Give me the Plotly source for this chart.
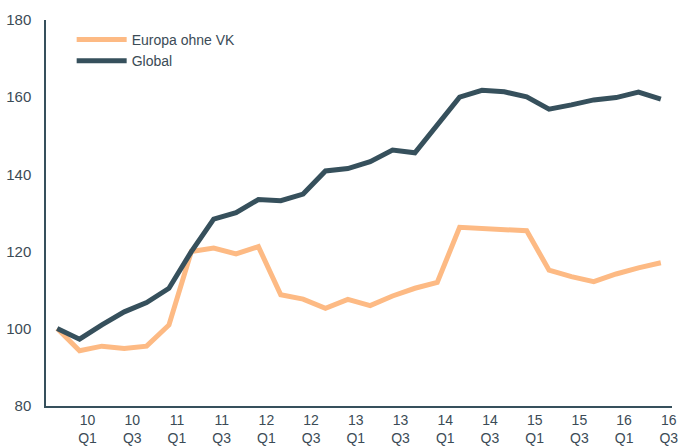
import plotly.graph_objects as go

quarters = ["09 Q4"] + [f"{y} Q{q}" for y in range(10, 16) for q in range(1, 5)] + ["16 Q1", "16 Q2", "16 Q3"]

europa = [100.1, 94.3, 95.5, 94.9, 95.5, 101.0, 120.0, 120.9, 119.4, 121.3,
          108.8, 107.7, 105.3, 107.6, 106.0, 108.5, 110.5, 112.0, 126.3, 125.9,
          125.8, 125.4, 115.2, 113.5, 112.2, 114.2, 115.8, 117.1]
global_ = [100.1, 97.3, 101.0, 104.4, 106.8, 110.5, 120.0, 128.4, 130.1, 133.5,
           133.2, 134.9, 140.9, 141.5, 143.3, 146.3, 145.6, 152.8, 160.0, 161.8,
           161.4, 160.1, 156.9, 158.0, 159.3, 159.9, 161.3, 159.5]

y_ticks = [80, 100, 120, 140, 160, 180]

x = list(range(len(quarters)))
tick_idx = [i for i, q in enumerate(quarters) if q.endswith("Q1") or q.endswith("Q3")]
tick_text = [quarters[i].replace(" ", "<br>") for i in tick_idx]

ORANGE = "#FDBA84"
DARK = "#36505C"
TEXT = "#3B4B56"

fig = go.Figure()
fig.add_trace(go.Scatter(x=x, y=europa, name="Europa ohne VK", mode="lines",
                         line=dict(color=ORANGE, width=5)))
fig.add_trace(go.Scatter(x=x, y=global_, name="Global", mode="lines",
                         line=dict(color=DARK, width=5)))

fig.update_layout(
    width=681, height=447,
    margin=dict(l=46, r=9, t=20, b=41, autoexpand=False),
    paper_bgcolor="white", plot_bgcolor="white",
    font=dict(family="Liberation Sans, Arial, sans-serif", size=15, color=TEXT),
    showlegend=True,
    legend=dict(x=0.041, y=0.99, xanchor="left", yanchor="top",
                bgcolor="rgba(0,0,0,0)", font=dict(size=14, color=TEXT),
                itemwidth=50, tracegroupgap=0),
)
fig.update_xaxes(
    range=[-0.5, len(quarters) - 0.5], automargin=False,
    tickmode="array", tickvals=tick_idx, ticktext=tick_text,
    showgrid=False, zeroline=False,
    showline=True, linecolor=DARK, linewidth=1.5,
    ticks="", ticklabelshift=8, ticklabelstandoff=0,
    tickfont=dict(size=14, color=TEXT),
)
fig.update_yaxes(
    range=[80, 180], automargin=False,
    tickmode="array", tickvals=y_ticks,
    showgrid=False, zeroline=False,
    showline=True, linecolor=DARK, linewidth=1.5,
    ticks="", ticklabelstandoff=10,
    tickfont=dict(size=15, color=TEXT),
)

# remove the browser's default 8px page margin so the figure fills the window
fig.write_html(
    "out.html",
    config={"displayModeBar": False},
    post_script="document.body.style.margin='0';document.body.style.overflow='hidden';",
)
